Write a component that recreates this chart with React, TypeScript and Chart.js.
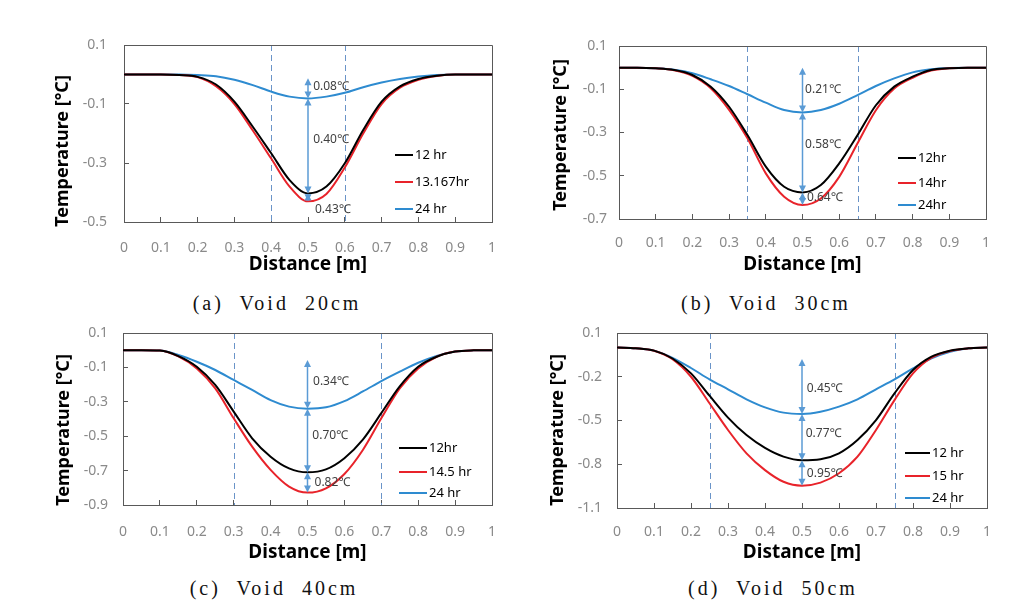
import React, { useEffect, useRef } from "react";
import { Chart, registerables } from "chart.js";

Chart.register(...registerables);

// ---------- DATA ----------
const distance = [0, 0.05, 0.1, 0.15, 0.2, 0.25, 0.3, 0.35, 0.4, 0.45, 0.5, 0.55, 0.6, 0.65, 0.7, 0.75, 0.8, 0.85, 0.9, 0.95, 1];
const xTicks = [0, 0.1, 0.2, 0.3, 0.4, 0.5, 0.6, 0.7, 0.8, 0.9, 1];

// (a) Void 20cm
const aLabels = ["12 hr", "13.167hr", "24 hr"];
const a12 = [0, 0, 0, -0.002, -0.008, -0.034, -0.092, -0.177, -0.267, -0.358, -0.403, -0.38, -0.301, -0.188, -0.092, -0.04, -0.015, -0.004, 0, 0, 0];
const aRed = [0, 0, 0, -0.002, -0.009, -0.04, -0.1, -0.19, -0.285, -0.38, -0.43, -0.405, -0.315, -0.2, -0.1, -0.045, -0.018, -0.005, 0, 0, 0];
const a24 = [0, 0, 0, 0, -0.002, -0.006, -0.018, -0.036, -0.058, -0.075, -0.081, -0.075, -0.062, -0.043, -0.027, -0.015, -0.007, -0.002, 0, 0, 0];
const aYTicks = [-0.5, -0.3, -0.1, 0.1];
const aVoid = [0.4, 0.6];
const aArrowStops = [-0.013, -0.081, -0.403, -0.43];
const aNotes = ["0.08℃", "0.40℃", "0.43℃"];

// (b) Void 30cm
const bLabels = ["12hr", "14hr", "24hr"];
const b12 = [0, 0, -0.003, -0.011, -0.034, -0.088, -0.181, -0.312, -0.458, -0.551, -0.577, -0.543, -0.443, -0.312, -0.174, -0.088, -0.042, -0.011, -0.003, 0, 0];
const bRed = [0, 0, -0.003, -0.012, -0.038, -0.095, -0.195, -0.327, -0.489, -0.597, -0.635, -0.605, -0.505, -0.35, -0.197, -0.097, -0.047, -0.014, -0.003, 0, 0];
const b24 = [0, 0, -0.003, -0.01, -0.026, -0.054, -0.085, -0.123, -0.162, -0.196, -0.207, -0.196, -0.167, -0.127, -0.085, -0.05, -0.022, -0.008, -0.002, 0, 0];
const bYTicks = [-0.7, -0.5, -0.3, -0.1, 0.1];
const bVoid = [0.35, 0.65];
const bArrowStops = [0, -0.207, -0.577, -0.635];
const bNotes = ["0.21℃", "0.58℃", "0.64℃"];

// (c) Void 40cm
const cLabels = ["12hr", "14.5 hr", "24 hr"];
const c12 = [0, 0, -0.002, -0.034, -0.096, -0.202, -0.357, -0.512, -0.619, -0.687, -0.71, -0.693, -0.628, -0.52, -0.366, -0.21, -0.096, -0.038, -0.008, -0.001, 0];
const cRed = [0, 0, -0.002, -0.036, -0.106, -0.222, -0.396, -0.561, -0.696, -0.793, -0.828, -0.803, -0.72, -0.58, -0.396, -0.222, -0.106, -0.038, -0.008, -0.001, 0];
const c24 = [0, 0, -0.002, -0.028, -0.067, -0.115, -0.173, -0.231, -0.29, -0.328, -0.34, -0.332, -0.296, -0.24, -0.18, -0.125, -0.073, -0.033, -0.008, -0.001, 0];
const cYTicks = [-0.9, -0.7, -0.5, -0.3, -0.1, 0.1];
const cVoid = [0.3, 0.7];
const cArrowStops = [-0.057, -0.34, -0.71, -0.828];
const cNotes = ["0.34℃", "0.70℃", "0.82℃"];

// (d) Void 50cm
const dLabels = ["12 hr", "15 hr", "24 hr"];
const d12 = [0, -0.005, -0.021, -0.075, -0.177, -0.33, -0.48, -0.6, -0.688, -0.748, -0.773, -0.766, -0.725, -0.634, -0.497, -0.314, -0.154, -0.062, -0.021, -0.005, 0];
const dRed = [0, -0.005, -0.022, -0.08, -0.2, -0.382, -0.565, -0.725, -0.84, -0.92, -0.947, -0.926, -0.862, -0.748, -0.565, -0.36, -0.177, -0.069, -0.023, -0.005, 0];
const d24 = [0, -0.005, -0.021, -0.07, -0.14, -0.218, -0.286, -0.355, -0.41, -0.446, -0.455, -0.44, -0.405, -0.355, -0.286, -0.218, -0.142, -0.074, -0.028, -0.005, 0];
const dYTicks = [-1.1, -0.8, -0.5, -0.2, 0.1];
const dVoid = [0.25, 0.75];
const dArrowStops = [-0.078, -0.455, -0.773, -0.947];
const dNotes = ["0.45℃", "0.77℃", "0.95℃"];

// ---------- LAYOUT / STYLE ----------
const FONT = "'Noto Sans', 'DejaVu Sans', sans-serif";
const LINE_COLORS = ["#000000", "#e8232a", "#2e8bd0"];
const FRAME = "#595959";
const ARROW = "#5b9bd5";
const DASH = "#6a94c8";

type Panel = {
  caption: string;
  labels: string[];
  series: number[][];
  yTicks: number[];
  voids: number[];
  stops: number[];
  notes: string[];
  notePos: number[][];
  box: { x0: number; y0: number; w: number; h: number };
  plot: { L: number; T: number; R: number; B: number };
  yTitle: { x: number; y: number };
  yLabelGap: number;
  xLabelY: number;
  xTitleY: number;
  legend: { x: number; len: number; rows: number[] };
  cap: { x: number; y: number };
};

const panels: Panel[] = [
  {
    caption: "(a) Void 20cm", labels: aLabels, series: [a12, aRed, a24], yTicks: aYTicks, voids: aVoid,
    stops: aArrowStops, notes: aNotes, notePos: [[0.514, -0.042], [0.514, -0.222], [0.519, -0.459]],
    box: { x0: 40, y0: 30, w: 480, h: 252 }, plot: { L: 124, T: 45, R: 492, B: 222 },
    yTitle: { x: 63, y: 151 }, yLabelGap: 17, xLabelY: 248, xTitleY: 265,
    legend: { x: 395, len: 18, rows: [155, 182, 209] }, cap: { x: 277, y: 303 },
  },
  {
    caption: "(b) Void 30cm", labels: bLabels, series: [b12, bRed, b24], yTicks: bYTicks, voids: bVoid,
    stops: bArrowStops, notes: bNotes, notePos: [[0.507, -0.103], [0.507, -0.358], [0.512, -0.603]],
    box: { x0: 535, y0: 30, w: 495, h: 252 }, plot: { L: 619, T: 46, R: 986, B: 219 },
    yTitle: { x: 561, y: 135 }, yLabelGap: 12, xLabelY: 243, xTitleY: 265,
    legend: { x: 898, len: 18, rows: [158, 183, 205] }, cap: { x: 766, y: 303 },
  },
  {
    caption: "(c) Void 40cm", labels: cLabels, series: [c12, cRed, c24], yTicks: cYTicks, voids: cVoid,
    stops: cArrowStops, notes: cNotes, notePos: [[0.515, -0.185], [0.513, -0.499], [0.519, -0.772]],
    box: { x0: 40, y0: 318, w: 480, h: 250 }, plot: { L: 123, T: 333, R: 492, B: 505 },
    yTitle: { x: 64, y: 430 }, yLabelGap: 15, xLabelY: 532, xTitleY: 553,
    legend: { x: 399, len: 28, rows: [448, 472, 493] }, cap: { x: 274, y: 588 },
  },
  {
    caption: "(d) Void 50cm", labels: dLabels, series: [d12, dRed, d24], yTicks: dYTicks, voids: dVoid,
    stops: dArrowStops, notes: dNotes, notePos: [[0.513, -0.284], [0.51, -0.593], [0.513, -0.867]],
    box: { x0: 535, y0: 318, w: 495, h: 250 }, plot: { L: 617, T: 333, R: 987, B: 508 },
    yTitle: { x: 558, y: 430 }, yLabelGap: 15, xLabelY: 532, xTitleY: 553,
    legend: { x: 905, len: 25, rows: [453, 476, 498] }, cap: { x: 773, y: 588 },
  },
];

const fmt = (v: number) => String(Math.round(v * 10) / 10);

function drawArrowHead(ctx: CanvasRenderingContext2D, x: number, y: number, dir: number) {
  ctx.beginPath();
  ctx.moveTo(x, y);
  ctx.lineTo(x - 3.5, y - dir * 7);
  ctx.lineTo(x + 3.5, y - dir * 7);
  ctx.closePath();
  ctx.fill();
}

function makePlugin(p: Panel) {
  return {
    id: "decor",
    beforeDatasetsDraw(chart: any) {
      const { ctx, chartArea, scales } = chart;
      ctx.save();
      ctx.strokeStyle = DASH;
      ctx.lineWidth = 1;
      ctx.setLineDash([6, 4]);
      p.voids.forEach((v) => {
        const x = Math.round(scales.x.getPixelForValue(v)) + 0.5;
        ctx.beginPath();
        ctx.moveTo(x, chartArea.top);
        ctx.lineTo(x, chartArea.bottom);
        ctx.stroke();
      });
      ctx.restore();
    },
    afterDatasetsDraw(chart: any) {
      const { ctx, chartArea, scales } = chart;
      const ox = p.box.x0;
      const oy = p.box.y0;
      ctx.save();
      ctx.strokeStyle = FRAME;
      ctx.lineWidth = 1;
      ctx.beginPath();
      ctx.moveTo(Math.round(chartArea.left), Math.round(chartArea.top) + 0.5);
      ctx.lineTo(Math.round(chartArea.right) + 0.5, Math.round(chartArea.top) + 0.5);
      ctx.lineTo(Math.round(chartArea.right) + 0.5, Math.round(chartArea.bottom));
      ctx.stroke();

      const ax = scales.x.getPixelForValue(0.5);
      ctx.strokeStyle = ARROW;
      ctx.fillStyle = ARROW;
      ctx.lineWidth = 1.5;
      for (let i = 0; i < p.stops.length - 1; i++) {
        const y1 = scales.y.getPixelForValue(p.stops[i]);
        const y2 = scales.y.getPixelForValue(p.stops[i + 1]);
        ctx.beginPath();
        ctx.moveTo(ax, y1 + 4);
        ctx.lineTo(ax, y2 - 4);
        ctx.stroke();
        drawArrowHead(ctx, ax, y1, -1);
        drawArrowHead(ctx, ax, y2, 1);
      }

      ctx.fillStyle = "#404040";
      ctx.font = `12px ${FONT}`;
      ctx.textAlign = "left";
      ctx.textBaseline = "middle";
      p.notes.forEach((t, i) => {
        const [nx, ny] = p.notePos[i];
        ctx.fillText(t, scales.x.getPixelForValue(nx), scales.y.getPixelForValue(ny));
      });

      ctx.font = `13px ${FONT}`;
      p.labels.forEach((lab, i) => {
        const y = p.legend.rows[i] - oy;
        const x = p.legend.x - ox;
        ctx.strokeStyle = LINE_COLORS[i];
        ctx.lineWidth = 2;
        ctx.beginPath();
        ctx.moveTo(x, y);
        ctx.lineTo(x + p.legend.len, y);
        ctx.stroke();
        ctx.fillStyle = "#000";
        ctx.fillText(lab, x + p.legend.len + 2, y + 0.5);
      });

      ctx.save();
      ctx.translate(p.yTitle.x - ox, p.yTitle.y - oy);
      ctx.rotate(-Math.PI / 2);
      ctx.font = `bold 18px ${FONT}`;
      ctx.fillStyle = "#000";
      ctx.textAlign = "center";
      ctx.textBaseline = "middle";
      ctx.fillText("Temperature [°C]", 0, 0);
      ctx.restore();

      ctx.restore();
    },
  };
}

function buildConfig(p: Panel): any {
  const xTitleSize = 19;
  const tickSize = 14;
  return {
    type: "line",
    data: {
      datasets: p.series.map((s, i) => ({
        label: p.labels[i],
        data: distance.map((x, j) => ({ x, y: s[j] })),
        borderColor: LINE_COLORS[i],
        backgroundColor: LINE_COLORS[i],
        borderWidth: 2,
        pointRadius: 0,
        cubicInterpolationMode: "monotone",
        fill: false,
      })),
    },
    options: {
      animation: false,
      responsive: false,
      maintainAspectRatio: false,
      events: [],
      layout: {
        autoPadding: false,
        padding: {
          left: 0,
          top: p.plot.T - p.box.y0,
          right: p.box.x0 + p.box.w - p.plot.R,
          bottom: 0,
        },
      },
      plugins: { legend: { display: false }, tooltip: { enabled: false } },
      scales: {
        x: {
          type: "linear",
          min: 0,
          max: 1,
          afterBuildTicks: (s: any) => {
            s.ticks = xTicks.map((v) => ({ value: v }));
          },
          afterFit: (s: any) => {
            s.height = p.box.y0 + p.box.h - p.plot.B;
            s.paddingLeft = 0;
            s.paddingRight = 0;
            s.paddingTop = 0;
            s.paddingBottom = 0;
          },
          grid: { drawOnChartArea: false, drawTicks: true, tickLength: -5, color: FRAME, tickColor: FRAME, lineWidth: 1 },
          border: { display: true, color: FRAME, width: 1 },
          ticks: {
            color: "#8a8a8a",
            font: { family: FONT, size: tickSize },
            padding: p.xLabelY - p.plot.B - (tickSize * 1.2) / 2 + 5,
            maxRotation: 0,
            autoSkip: false,
            callback: (v: number) => fmt(v),
          },
          title: {
            display: true,
            text: "Distance [m]",
            color: "#000",
            font: { family: FONT, size: xTitleSize, weight: "bold" },
            padding: { top: 0, bottom: p.box.y0 + p.box.h - p.xTitleY - (xTitleSize * 1.2) / 2 },
          },
        },
        y: {
          type: "linear",
          min: p.yTicks[0],
          max: p.yTicks[p.yTicks.length - 1],
          afterBuildTicks: (s: any) => {
            s.ticks = p.yTicks.map((v) => ({ value: v }));
          },
          afterFit: (s: any) => {
            s.width = p.plot.L - p.box.x0;
            s.paddingLeft = 0;
            s.paddingRight = 0;
            s.paddingTop = 0;
            s.paddingBottom = 0;
          },
          grid: { drawOnChartArea: false, drawTicks: true, tickLength: -5, color: FRAME, tickColor: FRAME, lineWidth: 1 },
          border: { display: true, color: FRAME, width: 1 },
          ticks: {
            color: "#8a8a8a",
            font: { family: FONT, size: tickSize },
            padding: p.yLabelGap + 5,
            autoSkip: false,
            callback: (v: number) => fmt(v),
          },
          title: { display: false },
        },
      },
    },
    plugins: [makePlugin(p)],
  };
}

function PanelChart({ p }: { p: Panel }) {
  const ref = useRef<HTMLCanvasElement | null>(null);
  useEffect(() => {
    if (!ref.current) return;
    const chart = new Chart(ref.current, buildConfig(p));
    return () => chart.destroy();
  }, [p]);
  return (
    <>
      <canvas
        ref={ref}
        width={p.box.w}
        height={p.box.h}
        style={{ position: "absolute", left: p.box.x0, top: p.box.y0, width: p.box.w, height: p.box.h }}
      />
      <div
        style={{
          position: "absolute",
          left: p.cap.x - 150,
          top: p.cap.y - 13,
          width: 300,
          height: 26,
          lineHeight: "26px",
          textAlign: "center",
          fontFamily: "'Liberation Serif', 'DejaVu Serif', serif",
          fontSize: 20,
          letterSpacing: "3px",
          wordSpacing: "8px",
          color: "#111",
          whiteSpace: "pre",
        }}
      >
        {p.caption}
      </div>
    </>
  );
}

export default function App() {
  return (
    <div style={{ position: "absolute", left: 0, top: 0, width: 1033, height: 604, background: "#fff", overflow: "hidden" }}>
      {panels.map((p, i) => (
        <PanelChart key={i} p={p} />
      ))}
    </div>
  );
}
